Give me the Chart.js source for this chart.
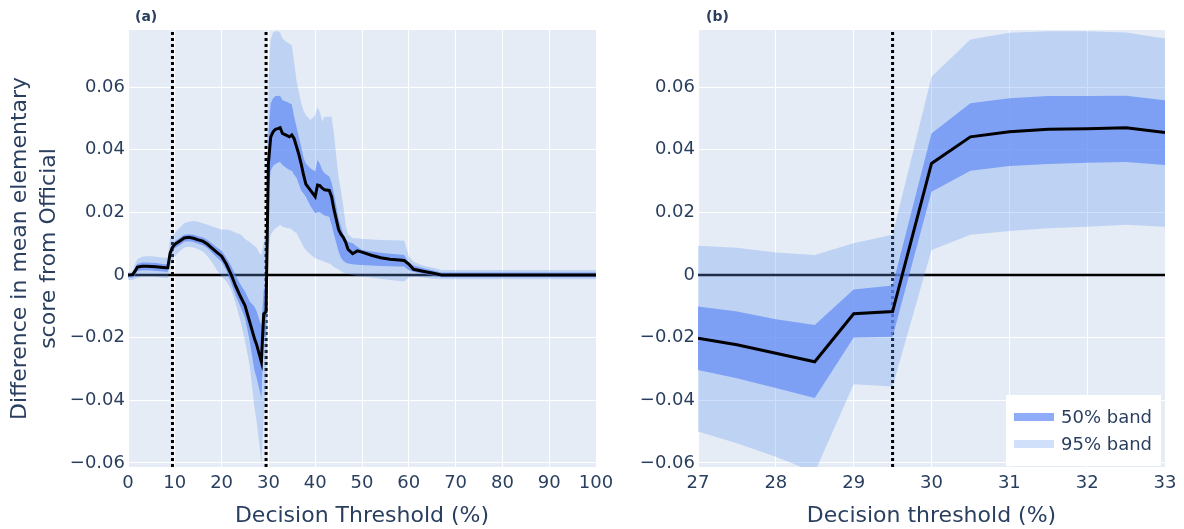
<!DOCTYPE html>
<html>
<head>
<meta charset="utf-8">
<script src="https://cdn.jsdelivr.net/npm/chart.js@4.4.0/dist/chart.umd.min.js"></script>
<style>
  body { margin: 0; background: #fff; width: 1184px; height: 529px; overflow: hidden; }
  canvas { position: absolute; top: 0; }
  #chartA { left: 0; }
  #chartB { left: 620px; }
</style>
</head>
<body>
<canvas id="chartA" width="620" height="529"></canvas>
<canvas id="chartB" width="564" height="529"></canvas>
<script>
// ---- panel (a): whole threshold sweep ----
const xA = [0, 1, 1.5, 2, 3, 4, 5, 6, 7, 8,
  8.5, 9, 9.5, 10, 11, 12, 13, 14, 15, 16,
  17, 18, 19, 20, 21, 22, 23, 24, 25, 26,
  27, 27.5, 28, 28.5, 29, 29.5, 30, 30.5, 31, 31.5,
  32, 32.5, 33, 34, 34.5, 35, 35.5, 36, 36.5, 37,
  37.5, 38, 39, 40, 40.5, 41, 41.5, 42, 43, 43.5,
  44, 45, 45.5, 46, 46.5, 47, 48, 49, 50, 52,
  54, 56, 58, 59, 60, 61, 63, 65, 67, 70,
  80, 90, 100];
const meanA = [0, 0.0001, 0.0012, 0.0025, 0.0028, 0.0028, 0.0027, 0.0026, 0.0025, 0.0023,
  0.0023, 0.007, 0.0088, 0.0098, 0.0108, 0.0118, 0.012, 0.0117, 0.0112, 0.0108,
  0.0098, 0.0085, 0.0072, 0.006, 0.0035, 0.0003, -0.0035, -0.0068, -0.0098, -0.015,
  -0.0202, -0.0223, -0.025, -0.0277, -0.0124, -0.0117, 0.0356, 0.0441, 0.0457, 0.0465,
  0.0467, 0.047, 0.0452, 0.0445, 0.0441, 0.0447, 0.0435, 0.041, 0.0385, 0.0355,
  0.032, 0.029, 0.027, 0.025, 0.0287, 0.0285, 0.0277, 0.0272, 0.027, 0.025,
  0.021, 0.0145, 0.013, 0.012, 0.0105, 0.0082, 0.0068, 0.0077, 0.0073, 0.0063,
  0.0055, 0.005, 0.0048, 0.0046, 0.0035, 0.0018, 0.0012, 0.0006, 0, 0,
  0, 0, 0];
const lo50A = [-0.0008, -0.0008, -0.0002, 0.0012, 0.0015, 0.0015, 0.0014, 0.0013, 0.0012, 0.001,
  0.001, 0.0055, 0.0072, 0.0085, 0.0095, 0.0106, 0.0108, 0.0105, 0.01, 0.0095,
  0.0085, 0.007, 0.0056, 0.0042, 0.0015, -0.0025, -0.0065, -0.01, -0.0137, -0.021,
  -0.0303, -0.033, -0.0361, -0.0393, -0.02, -0.0197, 0.0266, 0.0333, 0.0348, 0.0354,
  0.0358, 0.0361, 0.0351, 0.034, 0.0335, 0.0333, 0.032, 0.031, 0.029, 0.027,
  0.026, 0.025, 0.022, 0.0197, 0.02, 0.02, 0.0195, 0.019, 0.0186, 0.016,
  0.013, 0.0075, 0.0055, 0.0045, 0.004, 0.0037, 0.0034, 0.0033, 0.0032, 0.003,
  0.0029, 0.0028, 0.0027, 0.0027, 0.0015, 0.001, 0.0004, -0.0002, -0.0007, -0.0007,
  -0.0007, -0.0007, -0.0007];
const hi50A = [0.0003, 0.0006, 0.0022, 0.0035, 0.004, 0.004, 0.0039, 0.0038, 0.0036, 0.0034,
  0.0034, 0.0085, 0.0097, 0.0108, 0.0118, 0.0128, 0.013, 0.0128, 0.0124, 0.012,
  0.0112, 0.01, 0.0088, 0.0077, 0.0055, 0.003, -0.0002, -0.003, -0.0053, -0.0085,
  -0.0101, -0.0117, -0.0141, -0.016, -0.0046, -0.0034, 0.0452, 0.0548, 0.0564, 0.0571,
  0.0571, 0.0572, 0.0558, 0.0552, 0.0548, 0.0545, 0.0505, 0.0473, 0.044, 0.041,
  0.0375, 0.0356, 0.034, 0.033, 0.0367, 0.0355, 0.0335, 0.0325, 0.0314, 0.0295,
  0.026, 0.018, 0.0155, 0.013, 0.0115, 0.0106, 0.0101, 0.009, 0.008, 0.0075,
  0.0071, 0.0068, 0.0065, 0.0064, 0.004, 0.003, 0.0022, 0.0015, 0.0008, 0.0008,
  0.0008, 0.0008, 0.0008];
const lo95A = [-0.0016, -0.0016, -0.0012, -0.001, -0.0005, -0.0005, -0.0005, -0.0006, -0.0008, -0.001,
  -0.001, 0.003, 0.0045, 0.006, 0.0075, 0.0088, 0.009, 0.0088, 0.0082, 0.0075,
  0.006, 0.004, 0.0015, -0.0005, -0.002, -0.0045, -0.009, -0.0145, -0.021, -0.029,
  -0.042, -0.047, -0.053, -0.06, -0.045, -0.0356, 0.008, 0.0128, 0.014, 0.0149,
  0.0154, 0.016, 0.0154, 0.015, 0.0149, 0.0145, 0.0138, 0.0134, 0.012, 0.0105,
  0.009, 0.008, 0.0065, 0.0053, 0.005, 0.0048, 0.0045, 0.0042, 0.0037, 0.0033,
  0.0025, 0.0018, 0.0012, 0.0008, 0.0005, 0.0003, 0, -0.0004, -0.0005, -0.0008,
  -0.0012, -0.0016, -0.0019, -0.0021, -0.0008, -0.0006, -0.0008, -0.0012, -0.0014, -0.0014,
  -0.0014, -0.0014, -0.0014];
const hi95A = [0.0008, 0.0012, 0.0035, 0.005, 0.0058, 0.006, 0.006, 0.0058, 0.0056, 0.0055,
  0.0055, 0.0115, 0.0125, 0.0135, 0.015, 0.0165, 0.017, 0.0172, 0.017, 0.0165,
  0.016, 0.0155, 0.015, 0.0145, 0.0145, 0.0142, 0.0135, 0.013, 0.0115, 0.0105,
  0.0093, 0.0087, 0.0072, 0.0064, 0.0101, 0.0128, 0.0633, 0.0752, 0.0773, 0.0778,
  0.0778, 0.0774, 0.0755, 0.0742, 0.0738, 0.0733, 0.068, 0.062, 0.0585, 0.055,
  0.0525, 0.051, 0.0495, 0.051, 0.0536, 0.052, 0.049, 0.0505, 0.0505, 0.0505,
  0.045, 0.031, 0.027, 0.022, 0.016, 0.013, 0.0117, 0.0117, 0.0115, 0.0113,
  0.0112, 0.0111, 0.011, 0.011, 0.006, 0.0042, 0.003, 0.0024, 0.0016, 0.0016,
  0.0016, 0.0016, 0.0016];
const cutoffsA = [9.5, 29.5];

// ---- panel (b): zoom around the 30% threshold ----
const xB = [27, 27.5, 28, 28.5, 29, 29.5, 30, 30.5, 31, 31.5, 32, 32.5, 33];
const meanB = [-0.0202, -0.0223, -0.025, -0.0277, -0.0124, -0.0117, 0.0356, 0.0441, 0.0457, 0.0465, 0.0467, 0.047, 0.0455];
const lo50B = [-0.0303, -0.033, -0.0361, -0.0393, -0.02, -0.0197, 0.0266, 0.0333, 0.0348, 0.0354, 0.0358, 0.0361, 0.0351];
const hi50B = [-0.0101, -0.0117, -0.0141, -0.016, -0.0046, -0.0034, 0.0452, 0.0548, 0.0564, 0.0571, 0.0571, 0.0572, 0.0558];
const lo95B = [-0.05, -0.0537, -0.058, -0.063, -0.0349, -0.0356, 0.008, 0.0128, 0.014, 0.0149, 0.0154, 0.016, 0.0154];
const hi95B = [0.0093, 0.0087, 0.0072, 0.0064, 0.0101, 0.0128, 0.0633, 0.0752, 0.0773, 0.0778, 0.0778, 0.0774, 0.0755];
const cutoffsB = [29.5];

const Y_MIN = -0.0613, Y_MAX = 0.0782;
const TEXT = '#2a3f5f';
const BAND95 = 'rgba(100,149,237,0.3)';
const BAND50 = 'rgba(100,140,245,0.72)';
const FONT = 'DejaVu Sans';

Chart.defaults.font.family = FONT;
Chart.defaults.color = TEXT;
Chart.defaults.elements.point.radius = 0;
Chart.defaults.elements.point.hoverRadius = 0;
Chart.defaults.elements.line.tension = 0;

function buildDatasets(x, mean, lo50, hi50, lo95, hi95, cutoffs, xMin, xMax) {
  const pts = ys => x.map((v, i) => ({x: v, y: ys[i]}));
  const none = 'rgba(0,0,0,0)';
  const ds = [
    {label: 'lo95', data: pts(lo95), borderColor: none, borderWidth: 0, fill: false, order: 4},
    {label: '95% band', data: pts(hi95), borderColor: none, borderWidth: 0, fill: '-1', backgroundColor: BAND95, order: 4},
    {label: 'lo50', data: pts(lo50), borderColor: none, borderWidth: 0, fill: false, order: 3},
    {label: '50% band', data: pts(hi50), borderColor: none, borderWidth: 0, fill: '-1', backgroundColor: BAND50, order: 3},
    {label: 'mean', data: pts(mean), borderColor: '#000', borderWidth: 3, fill: false, order: 0},
    {label: 'zero', data: [{x: xMin, y: 0}, {x: xMax, y: 0}], borderColor: '#000', borderWidth: 2.5, fill: false, order: 6}
  ];
  cutoffs.forEach(c => ds.push({
    label: 'cutoff', data: [{x: c, y: Y_MIN}, {x: c, y: Y_MAX}],
    borderColor: '#000', borderWidth: 3, borderDash: [3, 3], fill: false, order: 6
  }));
  return ds;
}

const fmtY = v => {
  const r = Math.round(v * 100) / 100;
  if (r === 0) return '0';
  return (r < 0 ? '\u2212' : '') + Math.abs(r).toFixed(2);
};

// plot background
const plotBg = {
  id: 'plotBg',
  beforeDraw(chart) {
    const {ctx, chartArea: a} = chart;
    ctx.save();
    ctx.fillStyle = '#E5ECF6';
    ctx.fillRect(a.left, a.top, a.right - a.left, a.bottom - a.top);
    ctx.restore();
  }
};

// "(a)" / "(b)" panel tags
const panelTag = {
  id: 'panelTag',
  afterDraw(chart, args, opts) {
    const {ctx, chartArea: a} = chart;
    ctx.save();
    ctx.font = 'bold 14px "' + FONT + '"';
    ctx.fillStyle = TEXT;
    ctx.textBaseline = 'middle';
    ctx.fillText(opts.text, a.left + opts.dx, 17);
    ctx.restore();
  }
};

// plotly-like legend inside the bottom-right corner
const bandLegend = {
  id: 'bandLegend',
  afterDraw(chart, args, opts) {
    if (!opts.show) return;
    const {ctx, chartArea: a} = chart;
    const w = 155, h = 71;
    const left = a.right - 4 - w, top = a.bottom - 1 - h;
    ctx.save();
    ctx.fillStyle = '#ffffff';
    ctx.fillRect(left, top, w, h);
    const items = ['50% band', '95% band'].map(l => chart.data.datasets.find(d => d.label === l));
    ctx.font = '18px "' + FONT + '"';
    ctx.textBaseline = 'middle';
    items.forEach((d, i) => {
      const y = top + 22 + i * 27;
      ctx.fillStyle = d.backgroundColor;
      ctx.fillRect(left + 8, y - 4, 40, 8);
      ctx.fillStyle = TEXT;
      ctx.fillText(d.label, left + 55, y + 1);
    });
    ctx.restore();
  }
};

function makeChart(id, cfg) {
  return new Chart(document.getElementById(id), {
    type: 'line',
    data: {datasets: cfg.datasets},
    options: {
      responsive: false,
      animation: false,
      devicePixelRatio: 1,
      events: [],
      layout: {padding: {left: 0, top: 30, right: cfg.padRight, bottom: 0}},
      plugins: {
        legend: {display: false},
        tooltip: {enabled: false},
        panelTag: {text: cfg.tag, dx: cfg.tagDx},
        bandLegend: {show: cfg.legend}
      },
      scales: {
        x: {
          type: 'linear', min: cfg.xMin, max: cfg.xMax,
          afterFit: s => { s.height = 62; },
          ticks: {stepSize: cfg.xStep, padding: 6, autoSkip: false, maxRotation: 0,
                  includeBounds: false, font: {size: 18}, color: TEXT},
          grid: {color: '#ffffff', lineWidth: 1, drawTicks: false},
          border: {display: false},
          title: {display: true, text: cfg.xTitle, color: TEXT,
                  font: {size: 22}, padding: {top: 0, bottom: 0}}
        },
        y: {
          type: 'linear', min: Y_MIN, max: Y_MAX,
          afterFit: s => { s.width = cfg.yWidth; },
          ticks: {stepSize: 0.02, includeBounds: false, padding: 3,
                  font: {size: 18}, color: TEXT, callback: fmtY},
          grid: {color: '#ffffff', lineWidth: 1, drawTicks: false},
          border: {display: false},
          title: {display: cfg.yTitle !== null, text: cfg.yTitle, color: TEXT,
                  font: {size: 22, lineHeight: 1.3}, padding: {top: 6, bottom: 0}}
        }
      }
    },
    plugins: [plotBg, panelTag, bandLegend]
  });
}

makeChart('chartA', {
  datasets: buildDatasets(xA, meanA, lo50A, hi50A, lo95A, hi95A, cutoffsA, 0, 100),
  xMin: 0, xMax: 100, xStep: 10, yWidth: 128, padRight: 24,
  xTitle: 'Decision Threshold (%)',
  yTitle: ['Difference in mean elementary', 'score from Official'],
  tag: '(a)', tagDx: 7, legend: false
});

makeChart('chartB', {
  datasets: buildDatasets(xB, meanB, lo50B, hi50B, lo95B, hi95B, cutoffsB, 27, 33),
  xMin: 27, xMax: 33, xStep: 1, yWidth: 78, padRight: 19,
  xTitle: 'Decision threshold (%)',
  yTitle: null,
  tag: '(b)', tagDx: 8, legend: true
});
</script>
</body>
</html>
